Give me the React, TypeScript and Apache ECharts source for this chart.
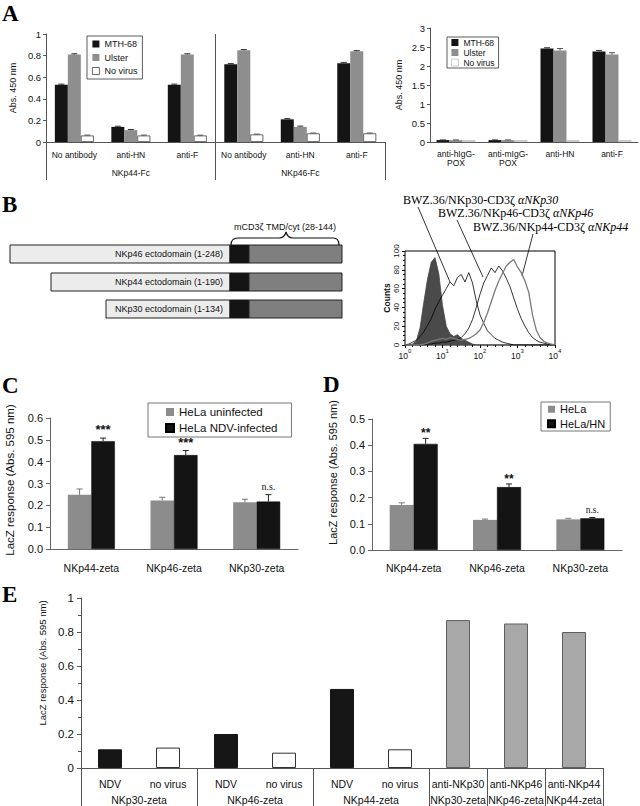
import React, { useEffect, useRef } from 'react';
import * as echarts from 'echarts';

const SANS = '"Liberation Sans", Arial, Helvetica, sans-serif';
const SERIF = '"Liberation Serif", "Times New Roman", serif';

// ---------- Panel A (left) ----------
const aLeftCategories = ['No antibody', 'anti-HN', 'anti-F', 'No antibody', 'anti-HN', 'anti-F'];
const aLeftGroups = ['NKp44-Fc', 'NKp46-Fc'];
const aLeftGroupSpans = [3, 3];
const aLeftMTH68 = [0.53, 0.14, 0.53, 0.72, 0.21, 0.73];
const aLeftUlster = [0.81, 0.11, 0.81, 0.85, 0.14, 0.84];
const aLeftNoVirus = [0.06, 0.06, 0.06, 0.07, 0.08, 0.08];
const aLeftMTH68Err = [0.006, 0.006, 0.006, 0.006, 0.007, 0.007];
const aLeftUlsterErr = [0.007, 0.006, 0.007, 0.006, 0.007, 0.006];
const aLeftNoVirusErr = [0.004, 0.004, 0.003, 0.003, 0.003, 0.003];

// ---------- Panel A (right) ----------
const aRightCategories = ['anti-hIgG-\nPOX', 'anti-mIgG-\nPOX', 'anti-HN', 'anti-F'];
const aRightMTH68 = [0.05, 0.05, 2.46, 2.38];
const aRightUlster = [0.05, 0.05, 2.41, 2.3];
const aRightNoVirus = [0.05, 0.05, 0.05, 0.05];
const aRightMTH68Err = [0.005, 0.005, 0.02, 0.03];
const aRightUlsterErr = [0.005, 0.005, 0.05, 0.05];

// ---------- Panel B (flow cytometry histogram; x = log10 fluorescence) ----------
const histLog = [0, 0.1, 0.2, 0.3, 0.4, 0.5, 0.6, 0.7, 0.8, 0.9, 1.0, 1.1, 1.2, 1.3, 1.4, 1.5, 1.6, 1.7, 1.8, 1.9,
  2.0, 2.1, 2.2, 2.3, 2.4, 2.5, 2.6, 2.7, 2.8, 2.9, 3.0, 3.1, 3.2, 3.3, 3.4, 3.5, 3.6, 3.7, 3.8, 3.9, 4.0];
const histIsotype = [0, 0, 1, 4, 18, 45, 70, 88, 93, 76, 42, 20, 12, 9, 11, 7, 5, 3, 1, 0,
  0, 0, 0, 0, 0, 0, 0, 0, 0, 0, 0, 0, 0, 0, 0, 0, 0, 0, 0, 0, 0];
const histNKp30 = [0, 1, 3, 5, 9, 14, 21, 28, 38, 46, 53, 60, 67, 63, 72, 75, 67, 77, 66, 47,
  32, 23, 15, 11, 7, 5, 3, 2, 1, 0, 0, 0, 0, 0, 0, 0, 0, 0, 0, 0, 0];
const histNKp46 = [0, 0, 0, 0, 0, 0, 1, 1, 2, 2, 3, 3, 4, 5, 6, 8, 12, 18, 27, 40,
  54, 66, 74, 82, 77, 84, 79, 71, 62, 50, 38, 28, 20, 13, 8, 5, 3, 2, 1, 0, 0];
const histNKp44 = [0, 0, 0, 0, 0, 1, 2, 4, 5, 6, 7, 6, 8, 7, 6, 5, 6, 7, 9, 12,
  16, 24, 34, 46, 58, 68, 76, 84, 88, 91, 83, 77, 68, 56, 32, 16, 8, 4, 2, 1, 0];

// ---------- Panel C ----------
const cCategories = ['NKp44-zeta', 'NKp46-zeta', 'NKp30-zeta'];
const cUninfected = [0.248, 0.222, 0.214];
const cUninfectedErr = [0.027, 0.015, 0.014];
const cInfected = [0.494, 0.43, 0.217];
const cInfectedErr = [0.014, 0.021, 0.032];
const cSignif = ['***', '***', 'n.s.'];

// ---------- Panel D ----------
const dCategories = ['NKp44-zeta', 'NKp46-zeta', 'NKp30-zeta'];
const dHeLa = [0.172, 0.115, 0.117];
const dHeLaErr = [0.008, 0.003, 0.004];
const dHeLaHN = [0.405, 0.24, 0.121];
const dHeLaHNErr = [0.021, 0.012, 0.003];
const dSignif = ['**', '**', 'n.s.'];

// ---------- Panel E ----------
const eCategories = ['NDV', 'no virus', 'NDV', 'no virus', 'NDV', 'no virus', 'anti-NKp30', 'anti-NKp46', 'anti-NKp44'];
const eGroups = ['NKp30-zeta', 'NKp46-zeta', 'NKp44-zeta', 'NKp30-zeta', 'NKp46-zeta', 'NKp44-zeta'];
const eGroupSpans = [2, 2, 2, 1, 1, 1];
const eValues = [0.11, 0.12, 0.2, 0.09, 0.465, 0.11, 0.87, 0.85, 0.8];
const eKind = ['virus', 'none', 'virus', 'none', 'virus', 'none', 'antibody', 'antibody', 'antibody'];

const BRACE_PATH = 'M231 245 C231 240 233 238 238 238 L279 238 C283 238 285 236 286 232 C287 236 289 238 293 238 L333 238 C337 238 339 240 339 245';

const AX = '#555';
const TXT = '#111';

function groupAxis(groups: string[], spans: number[], gridIndex: number, extra: any) {
  const total = spans.reduce((a, b) => a + b, 0);
  const data: string[] = new Array(total * 2 + 1).fill('');
  const bounds = new Set<number>([0]);
  const labels = new Set<number>();
  let acc = 0;
  groups.forEach((g, i) => {
    const c = acc * 2 + spans[i];
    data[c] = g;
    labels.add(c);
    acc += spans[i];
    bounds.add(acc * 2);
  });
  const inner = new Set<number>([...bounds].filter((b) => b !== 0 && b !== total * 2));
  return {
    type: 'category',
    gridIndex,
    position: 'bottom',
    data,
    boundaryGap: false,
    axisLine: { show: false },
    axisTick: { show: true, length: extra.tickLength, interval: (i: number) => bounds.has(i), lineStyle: { color: AX } },
    axisLabel: { show: true, interval: (i: number) => labels.has(i), margin: extra.margin, fontSize: extra.fontSize, fontFamily: SANS, color: TXT },
    splitLine: extra.split
      ? { show: true, interval: (i: number) => inner.has(i), lineStyle: { color: AX, width: 1 } }
      : { show: false },
  };
}

function errSeries(xi: number, yi: number, vals: number[], errs: number[], offset: number, color: string, marks?: string[], markOpt?: any) {
  return {
    type: 'custom',
    xAxisIndex: xi,
    yAxisIndex: yi,
    z: 5,
    silent: true,
    data: vals.map((v, i) => [i, v, errs[i]]),
    renderItem: (params: any, api: any) => {
      const i = api.value(0);
      const v = api.value(1);
      const e = api.value(2);
      const base = api.coord([i, v]);
      const top = api.coord([i, v + e]);
      const x = base[0] + offset;
      const children: any[] = [];
      if (e > 0) {
        children.push({ type: 'line', shape: { x1: x, y1: base[1], x2: x, y2: top[1] }, style: { stroke: color, lineWidth: 1 } });
        children.push({ type: 'line', shape: { x1: x - 3, y1: top[1], x2: x + 3, y2: top[1] }, style: { stroke: color, lineWidth: 1 } });
      }
      if (marks && marks[params.dataIndex]) {
        const m = marks[params.dataIndex];
        const isNs = m === 'n.s.';
        children.push({
          type: 'text',
          x,
          y: top[1] - (isNs ? markOpt.nsGap : markOpt.starGap),
          style: {
            text: m,
            fill: '#111',
            font: isNs ? `${markOpt.nsSize}px ${SERIF}` : `bold ${markOpt.starSize}px ${SANS}`,
            textAlign: 'center',
            textVerticalAlign: 'bottom',
          },
        });
      }
      return { type: 'group', children };
    },
  };
}

function buildOption(): any {
  const wA = 13;
  const wC = 23.5;
  const wD = 24;
  const black = '#141414';
  const gray = '#8c8c8c';

  const histSeries = (name: string, vals: number[], color: string, width: number, area?: boolean) => ({
    type: 'line',
    name,
    xAxisIndex: 3,
    yAxisIndex: 2,
    data: histLog.map((x, i) => [x, vals[i]]),
    symbol: 'none',
    smooth: false,
    lineStyle: { color, width },
    areaStyle: area ? { color: '#4a4a4a', opacity: 1 } : undefined,
    z: area ? 1 : 3,
  });

  const eColors: Record<string, any> = {
    virus: { color: '#161616', borderColor: '#161616', borderWidth: 1 },
    none: { color: '#ffffff', borderColor: '#333', borderWidth: 1 },
    antibody: { color: '#a8a8a8', borderColor: '#5e5e5e', borderWidth: 1 },
  };

  return {
    animation: false,
    backgroundColor: '#fff',
    textStyle: { fontFamily: SANS },
    grid: [
      { left: 30, top: 34, width: 355, height: 108 },
      { left: 430, top: 28, width: 208, height: 114 },
      { left: 405, top: 251, width: 150, height: 94, show: true, borderColor: '#000', borderWidth: 1, backgroundColor: 'transparent' },
      { left: 50, top: 418, width: 248, height: 131 },
      { left: 372, top: 419, width: 250, height: 131 },
      { left: 81, top: 598, width: 522, height: 170 },
    ],
    legend: [
      {
        data: ['MTH-68', 'Ulster', { name: 'No virus', itemStyle: { color: '#fff', borderColor: '#444', borderWidth: 0.8 } }],
        left: 87, top: 36, orient: 'vertical', icon: 'rect', itemWidth: 7, itemHeight: 7, itemGap: 3.5,
        padding: [3, 5, 3, 5], borderColor: '#333', borderWidth: 0.8, selectedMode: false,
        textStyle: { fontSize: 9, fontFamily: SANS, color: TXT, lineHeight: 10 },
      },
      {
        data: ['MTH-68', 'Ulster', { name: 'No virus', itemStyle: { color: '#fff', borderColor: '#bbb', borderWidth: 0.8 } }],
        left: 447, top: 37, orient: 'vertical', icon: 'rect', itemWidth: 7, itemHeight: 7, itemGap: 1,
        padding: [1, 4, 1, 4], borderColor: '#333', borderWidth: 0.8, selectedMode: false,
        textStyle: { fontSize: 8.5, fontFamily: SANS, color: TXT, lineHeight: 9 },
      },
      {
        data: ['HeLa uninfected', 'HeLa NDV-infected'],
        left: 148, top: 403, orient: 'vertical', icon: 'rect', itemWidth: 8, itemHeight: 8, itemGap: 2,
        padding: [2, 14, 2, 17], borderColor: '#777', borderWidth: 1, selectedMode: false,
        textStyle: { fontSize: 11.5, fontFamily: SANS, color: TXT, lineHeight: 14 },
      },
      {
        data: ['HeLa', 'HeLa/HN'],
        left: 541, top: 402, orient: 'vertical', icon: 'rect', itemWidth: 7, itemHeight: 7, itemGap: 2,
        padding: [1, 5, 1, 6], borderColor: '#777', borderWidth: 1, selectedMode: false,
        textStyle: { fontSize: 11, fontFamily: SANS, color: TXT, lineHeight: 12.5 },
      },
    ],
    xAxis: [
      {
        type: 'category', gridIndex: 0, position: 'bottom', data: aLeftCategories,
        axisLine: { lineStyle: { color: AX } },
        axisTick: { length: 20, interval: 0, lineStyle: { color: AX } },
        axisLabel: { interval: 0, fontSize: 8.5, margin: 8, color: TXT, fontFamily: SANS },
      },
      groupAxis(aLeftGroups, aLeftGroupSpans, 0, { tickLength: 38, margin: 26, fontSize: 8.5, split: true }),
      {
        type: 'category', gridIndex: 1, position: 'bottom', data: aRightCategories,
        axisLine: { lineStyle: { color: AX } },
        axisTick: { length: 5, interval: 0, lineStyle: { color: AX } },
        axisLabel: { interval: 0, fontSize: 8.5, lineHeight: 9, margin: 7, color: TXT, fontFamily: SANS },
      },
      {
        type: 'value', gridIndex: 2, position: 'bottom', min: 0, max: 4, interval: 1,
        axisLine: { show: false },
        axisTick: { show: true, length: 3, lineStyle: { color: '#000' } },
        minorTick: { show: true, splitNumber: 5, length: 2, lineStyle: { color: '#000' } },
        splitLine: { show: false },
        axisLabel: {
          margin: 3,
          formatter: (v: number) => `{b|10}{s|${v}}`,
          rich: {
            b: { fontSize: 8.5, fontFamily: SANS, color: TXT, lineHeight: 15 },
            s: { fontSize: 6, fontFamily: SANS, color: TXT, lineHeight: 7, verticalAlign: 'top' },
          },
        },
      },
      {
        type: 'category', gridIndex: 3, position: 'bottom', data: cCategories,
        axisLine: { lineStyle: { color: '#666' } },
        axisTick: { length: 4, interval: 0, lineStyle: { color: '#666' } },
        axisLabel: { interval: 0, fontSize: 10.5, margin: 13, color: TXT, fontFamily: SANS },
      },
      {
        type: 'category', gridIndex: 4, position: 'bottom', data: dCategories,
        axisLine: { lineStyle: { color: '#666' } },
        axisTick: { length: 4, interval: 0, lineStyle: { color: '#666' } },
        axisLabel: { interval: 0, fontSize: 10.5, margin: 12, color: TXT, fontFamily: SANS },
      },
      {
        type: 'category', gridIndex: 5, position: 'bottom', data: eCategories,
        axisLine: { lineStyle: { color: AX } },
        axisTick: { length: 11, interval: 0, lineStyle: { color: AX } },
        axisLabel: { interval: 0, fontSize: 10.5, margin: 10, color: TXT, fontFamily: SANS },
      },
      groupAxis(eGroups, eGroupSpans, 5, { tickLength: 38, margin: 26, fontSize: 10.5, split: false }),
    ],
    yAxis: [
      {
        type: 'value', gridIndex: 0, min: 0, max: 1, interval: 0.2,
        axisLine: { show: true, lineStyle: { color: AX } },
        axisTick: { show: true, length: 3, lineStyle: { color: AX } },
        splitLine: { show: false },
        axisLabel: { fontSize: 9.5, margin: 5, color: TXT, fontFamily: SANS },
        name: 'Abs. 450 nm', nameLocation: 'middle', nameGap: 18,
        nameTextStyle: { fontSize: 9, color: TXT, fontFamily: SANS },
      },
      {
        type: 'value', gridIndex: 1, min: 0, max: 3, interval: 0.5,
        axisLine: { show: true, lineStyle: { color: AX } },
        axisTick: { show: true, length: 3, lineStyle: { color: AX } },
        splitLine: { show: false },
        axisLabel: { fontSize: 9.5, margin: 5, color: TXT, fontFamily: SANS },
        name: 'Abs. 450 nm', nameLocation: 'middle', nameGap: 27,
        nameTextStyle: { fontSize: 9, color: TXT, fontFamily: SANS },
      },
      {
        type: 'value', gridIndex: 2, min: 0, max: 100, interval: 20,
        axisLine: { show: false },
        axisTick: { show: true, length: 3, lineStyle: { color: '#000' } },
        minorTick: { show: true, splitNumber: 4, length: 2, lineStyle: { color: '#000' } },
        splitLine: { show: false },
        axisLabel: { fontSize: 8, margin: 5, rotate: 90, color: TXT, fontFamily: SANS },
        name: 'Counts', nameLocation: 'middle', nameGap: 14,
        nameTextStyle: { fontSize: 8.5, fontWeight: 'bold', color: TXT, fontFamily: SANS },
      },
      {
        type: 'value', gridIndex: 3, min: 0, max: 0.6, interval: 0.1,
        axisLine: { show: true, lineStyle: { color: '#666' } },
        axisTick: { show: true, length: 4, lineStyle: { color: '#666' } },
        splitLine: { show: false },
        axisLabel: { fontSize: 11, margin: 7, color: TXT, fontFamily: SANS, formatter: (v: number) => v.toFixed(1) },
        name: 'LacZ response (Abs. 595 nm)', nameLocation: 'middle', nameGap: 34,
        nameTextStyle: { fontSize: 11.5, color: TXT, fontFamily: SANS, padding: [0, 0, 0, 7] },
      },
      {
        type: 'value', gridIndex: 4, min: 0, max: 0.5, interval: 0.1,
        axisLine: { show: true, lineStyle: { color: '#666' } },
        axisTick: { show: true, length: 4, lineStyle: { color: '#666' } },
        splitLine: { show: false },
        axisLabel: { fontSize: 11, margin: 7, color: TXT, fontFamily: SANS, formatter: (v: number) => v.toFixed(1) },
        name: 'LacZ response (Abs. 595 nm)', nameLocation: 'middle', nameGap: 34,
        nameTextStyle: { fontSize: 11, color: TXT, fontFamily: SANS, padding: [0, 0, 0, 24] },
      },
      {
        type: 'value', gridIndex: 5, min: 0, max: 1, interval: 0.2,
        axisLine: { show: true, lineStyle: { color: AX } },
        axisTick: { show: true, length: 4, lineStyle: { color: AX } },
        minorTick: { show: true, splitNumber: 2, length: 3, lineStyle: { color: AX } },
        splitLine: { show: false },
        axisLabel: { fontSize: 11.5, margin: 7, color: TXT, fontFamily: SANS },
        name: 'LacZ response (Abs. 595 nm)', nameLocation: 'middle', nameGap: 29,
        nameTextStyle: { fontSize: 9.5, color: TXT, fontFamily: SANS, padding: [0, 0, 0, 40] },
      },
    ],
    series: [
      // A left
      { type: 'bar', name: 'MTH-68', xAxisIndex: 0, yAxisIndex: 0, data: aLeftMTH68, barWidth: wA, barGap: '0%', itemStyle: { color: black } },
      { type: 'bar', name: 'Ulster', xAxisIndex: 0, yAxisIndex: 0, data: aLeftUlster, barWidth: wA, barGap: '0%', itemStyle: { color: '#8e8e8e' } },
      { type: 'bar', name: 'No virus', xAxisIndex: 0, yAxisIndex: 0, data: aLeftNoVirus, barWidth: wA, barGap: '0%', itemStyle: { color: '#fff', borderColor: '#444', borderWidth: 0.8 } },
      errSeries(0, 0, aLeftMTH68, aLeftMTH68Err, -wA, '#333'),
      errSeries(0, 0, aLeftUlster, aLeftUlsterErr, 0, '#333'),
      errSeries(0, 0, aLeftNoVirus, aLeftNoVirusErr, wA, '#555'),
      // A right
      { type: 'bar', name: 'MTH-68', xAxisIndex: 2, yAxisIndex: 1, data: aRightMTH68, barWidth: wA, barGap: '0%', itemStyle: { color: black } },
      { type: 'bar', name: 'Ulster', xAxisIndex: 2, yAxisIndex: 1, data: aRightUlster, barWidth: wA, barGap: '0%', itemStyle: { color: '#8e8e8e' } },
      { type: 'bar', name: 'No virus', xAxisIndex: 2, yAxisIndex: 1, data: aRightNoVirus, barWidth: wA, barGap: '0%', itemStyle: { color: '#fff', borderColor: '#bbb', borderWidth: 0.8 } },
      errSeries(2, 1, aRightMTH68, aRightMTH68Err, -wA, '#333'),
      errSeries(2, 1, aRightUlster, aRightUlsterErr, 0, '#555'),
      // B histogram
      histSeries('Isotype', histIsotype, '#444', 0.8, true),
      histSeries('NKp30', histNKp30, '#000', 0.8),
      histSeries('NKp46', histNKp46, '#000', 0.8),
      histSeries('NKp44', histNKp44, '#7a7a7a', 1.3),
      // C
      { type: 'bar', name: 'HeLa uninfected', xAxisIndex: 4, yAxisIndex: 3, data: cUninfected, barWidth: wC, barGap: '0%', itemStyle: { color: gray } },
      { type: 'bar', name: 'HeLa NDV-infected', xAxisIndex: 4, yAxisIndex: 3, data: cInfected, barWidth: wC, barGap: '0%', itemStyle: { color: black, borderColor: '#000', borderWidth: 0.5 } },
      errSeries(4, 3, cUninfected, cUninfectedErr, -wC / 2, '#777'),
      errSeries(4, 3, cInfected, cInfectedErr, wC / 2, '#222', cSignif, { starGap: 2, nsGap: 3, starSize: 13, nsSize: 10 }),
      // D
      { type: 'bar', name: 'HeLa', xAxisIndex: 5, yAxisIndex: 4, data: dHeLa, barWidth: wD, barGap: '0%', itemStyle: { color: gray } },
      { type: 'bar', name: 'HeLa/HN', xAxisIndex: 5, yAxisIndex: 4, data: dHeLaHN, barWidth: wD, barGap: '0%', itemStyle: { color: black, borderColor: '#000', borderWidth: 0.5 } },
      errSeries(5, 4, dHeLa, dHeLaErr, -wD / 2, '#777'),
      errSeries(5, 4, dHeLaHN, dHeLaHNErr, wD / 2, '#222', dSignif, { starGap: -1, nsGap: 3, starSize: 12, nsSize: 9.5 }),
      // E
      {
        type: 'bar', name: 'LacZ E', xAxisIndex: 6, yAxisIndex: 5, barWidth: 24,
        data: eValues.map((v, i) => ({ value: v, itemStyle: eColors[eKind[i]] })),
      },
    ],
    graphic: [
      { type: 'text', x: 2, y: 13, style: { text: 'A', font: `bold 23px ${SERIF}`, fill: '#000', textVerticalAlign: 'middle' } },
      { type: 'text', x: 2, y: 204, style: { text: 'B', font: `bold 23px ${SERIF}`, fill: '#000', textVerticalAlign: 'middle' } },
      { type: 'text', x: 2, y: 385, style: { text: 'C', font: `bold 23px ${SERIF}`, fill: '#000', textVerticalAlign: 'middle' } },
      { type: 'text', x: 323, y: 384, style: { text: 'D', font: `bold 23px ${SERIF}`, fill: '#000', textVerticalAlign: 'middle' } },
      { type: 'text', x: 2, y: 594, style: { text: 'E', font: `bold 23px ${SERIF}`, fill: '#000', textVerticalAlign: 'middle' } },
      // B schematic
      { type: 'text', x: 285, y: 227, style: { text: 'mCD3ζ TMD/cyt (28-144)', font: `9px ${SANS}`, fill: '#111', textAlign: 'center', textVerticalAlign: 'middle' } },
      { type: 'brace', x: 0, y: 0, style: { fill: 'none', stroke: '#111', lineWidth: 1.2 } },
      ...[
        { label: 'NKp46 ectodomain (1-248)', x0: 10, y: 245 },
        { label: 'NKp44 ectodomain (1-190)', x0: 51, y: 273 },
        { label: 'NKp30 ectodomain (1-134)', x0: 106, y: 300 },
      ].flatMap((r) => [
        { type: 'rect', shape: { x: r.x0, y: r.y, width: 230 - r.x0, height: 18 }, style: { fill: '#ececec', stroke: '#222', lineWidth: 1 } },
        { type: 'rect', shape: { x: 230, y: r.y, width: 19, height: 18 }, style: { fill: '#141414', stroke: '#141414', lineWidth: 1 } },
        { type: 'rect', shape: { x: 249, y: r.y, width: 93, height: 18 }, style: { fill: '#7f7f7f', stroke: '#222', lineWidth: 1 } },
        { type: 'text', x: 223, y: r.y + 9, style: { text: r.label, font: `9px ${SANS}`, fill: '#111', textAlign: 'right', textVerticalAlign: 'middle' } },
      ]),
      // B histogram labels
      ...[
        { a: 'BWZ.36/NKp30-CD3ζ ', b: 'αNKp30', x: 403, y: 200 },
        { a: 'BWZ.36/NKp46-CD3ζ ', b: 'αNKp46', x: 438, y: 213 },
        { a: 'BWZ.36/NKp44-CD3ζ ', b: 'αNKp44', x: 473, y: 227 },
      ].map((l) => ({
        type: 'text', x: l.x, y: l.y,
        style: {
          text: `{n|${l.a}}{i|${l.b}}`,
          rich: {
            n: { font: `12px ${SERIF}`, fill: '#000' },
            i: { font: `italic 12px ${SERIF}`, fill: '#000' },
          },
          textVerticalAlign: 'middle',
        },
      })),
      { type: 'line', shape: { x1: 418, y1: 207, x2: 450, y2: 282 }, style: { stroke: '#000', lineWidth: 0.8 } },
      { type: 'line', shape: { x1: 457, y1: 220, x2: 483, y2: 277 }, style: { stroke: '#000', lineWidth: 0.8 } },
      { type: 'line', shape: { x1: 533, y1: 234, x2: 522, y2: 276 }, style: { stroke: '#000', lineWidth: 0.8 } },
    ],
  };
}

export default function App() {
  const ref = useRef<HTMLDivElement>(null);
  useEffect(() => {
    if (!ref.current) return;
    try {
      echarts.graphic.registerShape('brace', (echarts.graphic as any).extendPath(BRACE_PATH, {}));
    } catch (e) {
      // ignore
    }
    const chart = echarts.init(ref.current, null, { renderer: 'svg' });
    chart.setOption(buildOption());
    return () => chart.dispose();
  }, []);
  return <div ref={ref} style={{ position: 'fixed', left: 0, top: 0, width: 640, height: 806, background: '#fff' }} />;
}
